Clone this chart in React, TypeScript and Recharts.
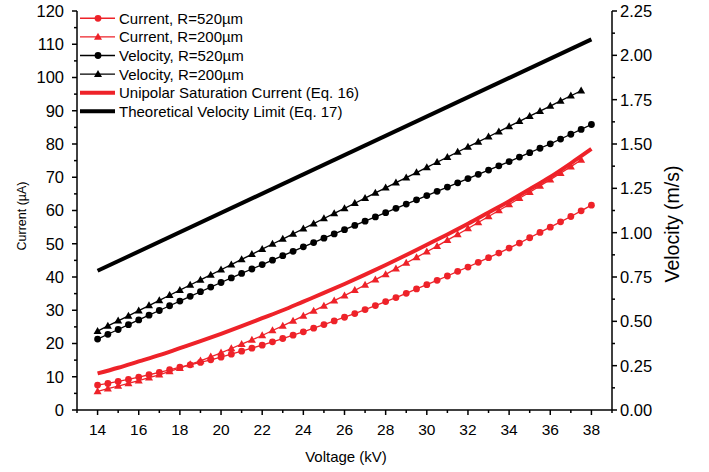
import React from "react";
import { LineChart, Line, XAxis, YAxis, Legend } from "recharts";

const FONT = '"Liberation Sans", Arial, sans-serif';
const RED = "#ee2229";
const BLACK = "#000000";

// voltage (kV) for the measured series
const voltage520 = [
  14, 14.5, 15, 15.5, 16, 16.5, 17, 17.5, 18, 18.5, 19, 19.5, 20, 20.5, 21, 21.5, 22, 22.5, 23, 23.5,
  24, 24.5, 25, 25.5, 26, 26.5, 27, 27.5, 28, 28.5, 29, 29.5, 30, 30.5, 31, 31.5, 32, 32.5, 33, 33.5,
  34, 34.5, 35, 35.5, 36, 36.5, 37, 37.5, 38,
];
const voltage200 = [
  14, 14.5, 15, 15.5, 16, 16.5, 17, 17.5, 18, 18.5, 19, 19.5, 20, 20.5, 21, 21.5, 22, 22.5, 23, 23.5,
  24, 24.5, 25, 25.5, 26, 26.5, 27, 27.5, 28, 28.5, 29, 29.5, 30, 30.5, 31, 31.5, 32, 32.5, 33, 33.5,
  34, 34.5, 35, 35.5, 36, 36.5, 37, 37.5,
];

// current (µA)
const currentR520 = [
  7.5, 8.0, 8.6, 9.2, 9.9, 10.6, 11.3, 12.1, 12.9, 13.6, 14.3, 15.1, 15.9, 16.8, 17.7, 18.6, 19.5, 20.5, 21.5, 22.5,
  23.5, 24.6, 25.7, 26.8, 27.9, 29.0, 30.2, 31.4, 32.6, 33.8, 35.1, 36.4, 37.7, 39.0, 40.3, 41.7, 43.0, 44.4, 45.8, 47.2,
  48.7, 50.2, 51.8, 53.4, 55.0, 56.6, 58.2, 59.9, 61.6,
];
const currentR200 = [
  5.6, 6.4, 7.2, 8.0, 8.8, 9.7, 10.6, 11.6, 12.6, 13.7, 14.8, 16.0, 17.2, 18.5, 19.8, 21.1, 22.4, 23.9, 25.3, 26.8,
  28.3, 29.8, 31.3, 32.9, 34.4, 36.0, 37.6, 39.2, 40.8, 42.5, 44.2, 45.9, 47.6, 49.3, 51.1, 52.8, 54.6, 56.4, 58.2, 60.0,
  61.8, 63.7, 65.5, 67.4, 69.3, 71.2, 73.2, 75.2,
];

// velocity (m/s)
const velocityR520 = [
  0.400, 0.427, 0.454, 0.481, 0.508, 0.535, 0.561, 0.588, 0.614, 0.641, 0.667, 0.693, 0.719, 0.745, 0.770, 0.795, 0.820, 0.845, 0.870, 0.895,
  0.920, 0.944, 0.969, 0.993, 1.017, 1.041, 1.065, 1.089, 1.113, 1.137, 1.161, 1.185, 1.209, 1.233, 1.257, 1.281, 1.305, 1.329, 1.353, 1.377,
  1.401, 1.426, 1.451, 1.476, 1.501, 1.528, 1.555, 1.582, 1.610,
];
const velocityR200 = [
  0.445, 0.474, 0.503, 0.531, 0.560, 0.589, 0.618, 0.647, 0.676, 0.705, 0.734, 0.762, 0.791, 0.820, 0.849, 0.878, 0.907, 0.936, 0.964, 0.993,
  1.022, 1.051, 1.080, 1.109, 1.137, 1.166, 1.195, 1.224, 1.253, 1.282, 1.310, 1.339, 1.368, 1.397, 1.426, 1.455, 1.484, 1.512, 1.541, 1.570,
  1.599, 1.628, 1.657, 1.685, 1.714, 1.743, 1.772, 1.800,
];

// theory curves
const voltageSaturation = [14, 15, 16, 17, 18, 19, 20, 21, 22, 23, 24, 25, 26, 27, 28, 29, 30, 31, 32, 33, 34, 35, 36, 37, 38];
const saturationCurrent = [
  11.0, 12.7, 14.6, 16.5, 18.6, 20.7, 22.9, 25.2, 27.6, 30.0, 32.6, 35.2, 37.9, 40.7, 43.6, 46.6, 49.7, 52.8, 56.0, 59.4,
  62.8, 66.4, 70.1, 74.2, 78.5,
];
const voltageLimit = [14, 38];
const velocityLimit = [0.785, 2.09];

const voltageTicks = [13, 14, 15, 16, 17, 18, 19, 20, 21, 22, 23, 24, 25, 26, 27, 28, 29, 30, 31, 32, 33, 34, 35, 36, 37, 38, 39];
const currentTicks = [0, 5, 10, 15, 20, 25, 30, 35, 40, 45, 50, 55, 60, 65, 70, 75, 80, 85, 90, 95, 100, 105, 110, 115, 120];
const velocityTicks = [
  0, 0.125, 0.25, 0.375, 0.5, 0.625, 0.75, 0.875, 1, 1.125, 1.25, 1.375, 1.5, 1.625, 1.75, 1.875, 2, 2.125, 2.25,
];

const legendItems = [
  { label: "Current, R=520µm", color: RED, marker: "circle", thick: false },
  { label: "Current, R=200µm", color: RED, marker: "triangle", thick: false },
  { label: "Velocity, R=520µm", color: BLACK, marker: "circle", thick: false },
  { label: "Velocity, R=200µm", color: BLACK, marker: "triangle", thick: false },
  { label: "Unipolar Saturation Current (Eq. 16)", color: RED, marker: "none", thick: true },
  { label: "Theoretical Velocity Limit (Eq. 17)", color: BLACK, marker: "none", thick: true },
];

const toPoints = (xs: number[], ys: number[]) => xs.map((v, i) => ({ v, y: ys[i] }));

const triPath = (cx: number, cy: number, s: number) =>
  `M${cx},${cy - s * 1.05} L${cx + s},${cy + s * 0.7} L${cx - s},${cy + s * 0.7} Z`;

const circleDot = (color: string) => (props: any) => {
  const { cx, cy, index } = props;
  if (cx == null || cy == null) return <g key={index} />;
  return <circle key={index} cx={cx} cy={cy} r={3.4} fill={color} stroke="none" />;
};

const triangleDot = (color: string) => (props: any) => {
  const { cx, cy, index } = props;
  if (cx == null || cy == null) return <g key={index} />;
  return <path key={index} d={triPath(cx, cy, 4)} fill={color} stroke="none" />;
};

const XTick = (props: any) => {
  const { x, y, payload } = props;
  const major = payload.value % 2 === 0;
  return (
    <g>
      <line x1={x} x2={x} y1={y} y2={y + (major ? 5 : 3)} stroke={BLACK} strokeWidth={1.5} />
      {major && (
        <text x={x} y={y + 25} textAnchor="middle" fontSize={15.5} fontFamily={FONT} fill={BLACK}>
          {payload.value}
        </text>
      )}
    </g>
  );
};

const CurrentTick = (props: any) => {
  const { x, y, payload } = props;
  const major = payload.value % 10 === 0;
  return (
    <g>
      <line x1={x - (major ? 5 : 3)} x2={x} y1={y} y2={y} stroke={BLACK} strokeWidth={1.5} />
      {major && (
        <text x={x - 13} y={y} dy="0.36em" textAnchor="end" fontSize={16.5} fontFamily={FONT} fill={BLACK}>
          {payload.value}
        </text>
      )}
    </g>
  );
};

const VelocityTick = (props: any) => {
  const { x, y, payload } = props;
  const major = Math.round(payload.value * 1000) % 250 === 0;
  return (
    <g>
      <line x1={x} x2={x + (major ? 5 : 3)} y1={y} y2={y} stroke={BLACK} strokeWidth={1.5} />
      {major && (
        <text x={x + 8} y={y} dy="0.36em" textAnchor="start" fontSize={16.5} fontFamily={FONT} fill={BLACK}>
          {payload.value.toFixed(2)}
        </text>
      )}
    </g>
  );
};

const LegendBox = () => (
  <svg width={400} height={125} style={{ display: "block" }}>
    {legendItems.map((item, i) => {
      const cy = 18.3 + i * 18.6;
      return (
        <g key={item.label}>
          <line x1={80} x2={115} y1={cy} y2={cy} stroke={item.color} strokeWidth={item.thick ? 4 : 1.4} />
          {item.marker === "circle" && <circle cx={98} cy={cy} r={3.4} fill={item.color} />}
          {item.marker === "triangle" && <path d={triPath(98, cy, 4)} fill={item.color} />}
          <text x={119} y={cy} dy="0.36em" fontSize={15} fontFamily={FONT} fill={BLACK}>
            {item.label}
          </text>
        </g>
      );
    })}
  </svg>
);

export default function App() {
  return (
    <div style={{ position: "absolute", left: 0, top: 0, background: "#fff", fontFamily: FONT }}>
      <LineChart width={709} height={472} margin={{ top: 11, right: 0, bottom: 0, left: 0 }}>
        <XAxis
          dataKey="v"
          type="number"
          domain={[13, 39]}
          ticks={voltageTicks}
          interval={0}
          tickSize={0}
          tickMargin={0}
          tick={<XTick />}
          height={62}
          axisLine={{ stroke: BLACK, strokeWidth: 1.5 }}
          label={{
            content: () => (
              <text x={346} y={462} textAnchor="middle" fontSize={15} fontFamily={FONT} fill={BLACK}>
                Voltage (kV)
              </text>
            ),
          }}
        />
        <YAxis
          yAxisId="left"
          type="number"
          domain={[0, 120]}
          ticks={currentTicks}
          interval={0}
          tickSize={0}
          tickMargin={0}
          tick={<CurrentTick />}
          width={77}
          axisLine={{ stroke: BLACK, strokeWidth: 1.5 }}
          label={{
            content: () => (
              <text
                x={21}
                y={216}
                transform="rotate(-90 21 216)"
                textAnchor="middle"
                dy="0.36em"
                fontSize={12.5}
                fontFamily={FONT}
                fill={BLACK}
              >
                Current (µA)
              </text>
            ),
          }}
        />
        <YAxis
          yAxisId="right"
          orientation="right"
          type="number"
          domain={[0, 2.25]}
          ticks={velocityTicks}
          interval={0}
          tickSize={0}
          tickMargin={0}
          tick={<VelocityTick />}
          width={97}
          axisLine={{ stroke: BLACK, strokeWidth: 1.5 }}
          label={{
            content: () => (
              <text
                x={672}
                y={224}
                transform="rotate(-90 672 224)"
                textAnchor="middle"
                dy="0.36em"
                fontSize={19.5}
                fontFamily={FONT}
                fill={BLACK}
              >
                Velocity (m/s)
              </text>
            ),
          }}
        />
        <Legend
          layout="vertical"
          align="center"
          verticalAlign="middle"
          wrapperStyle={{ left: 0, top: 0, width: 400, height: 125 }}
          content={() => <LegendBox />}
        />
        <Line
          yAxisId="right"
          data={toPoints(voltageLimit, velocityLimit)}
          dataKey="y"
          stroke={BLACK}
          strokeWidth={4}
          dot={false}
          isAnimationActive={false}
        />
        <Line
          yAxisId="right"
          data={toPoints(voltage200, velocityR200)}
          dataKey="y"
          stroke={BLACK}
          strokeWidth={1.3}
          dot={triangleDot(BLACK)}
          isAnimationActive={false}
        />
        <Line
          yAxisId="right"
          data={toPoints(voltage520, velocityR520)}
          dataKey="y"
          stroke={BLACK}
          strokeWidth={1.3}
          dot={circleDot(BLACK)}
          isAnimationActive={false}
        />
        <Line
          yAxisId="left"
          data={toPoints(voltage520, currentR520)}
          dataKey="y"
          stroke={RED}
          strokeWidth={1.3}
          dot={circleDot(RED)}
          isAnimationActive={false}
        />
        <Line
          yAxisId="left"
          data={toPoints(voltage200, currentR200)}
          dataKey="y"
          stroke={RED}
          strokeWidth={1.3}
          dot={triangleDot(RED)}
          isAnimationActive={false}
        />
        <Line
          yAxisId="left"
          type="monotone"
          data={toPoints(voltageSaturation, saturationCurrent)}
          dataKey="y"
          stroke={RED}
          strokeWidth={4}
          dot={false}
          isAnimationActive={false}
        />
      </LineChart>
    </div>
  );
}
